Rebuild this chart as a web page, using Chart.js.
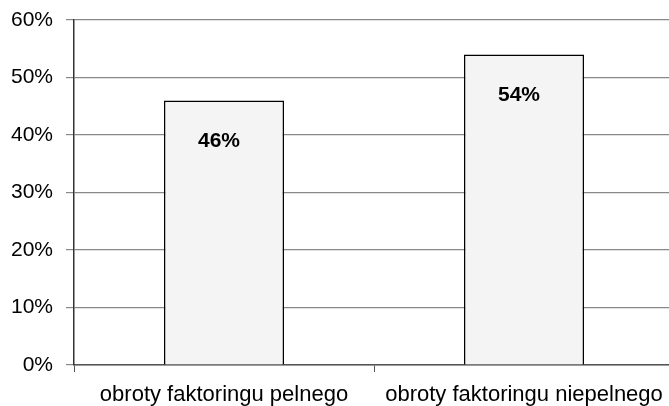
<!DOCTYPE html>
<html>
<head>
<meta charset="utf-8">
<script src="https://cdn.jsdelivr.net/npm/chart.js@4"></script>
<style>
  html, body { margin: 0; padding: 0; background: #fff; overflow: hidden; }
  #wrap { width: 675px; height: 406px; position: relative; }
</style>
</head>
<body>
<div id="wrap"><canvas id="c"></canvas></div>
<script>
const categories = ["obroty faktoringu pelnego", "obroty faktoringu niepelnego"];
const values = [46, 54];
const valueLabels = ["46%", "54%"];
const yTicks = [0, 10, 20, 30, 40, 50, 60];

const FONT = "'Liberation Sans', Arial, sans-serif";

const barLabelPlugin = {
  id: 'barLabels',
  afterDatasetsDraw(chart) {
    const ctx = chart.ctx;
    const meta = chart.getDatasetMeta(0);
    ctx.save();
    ctx.font = "bold 21px " + FONT;
    ctx.fillStyle = "#000";
    ctx.textAlign = "center";
    ctx.textBaseline = "middle";
    meta.data.forEach((bar, i) => {
      ctx.fillText(valueLabels[i], bar.x - 5, bar.y + 41);
    });
    ctx.restore();
  }
};

new Chart(document.getElementById('c'), {
  type: 'bar',
  data: {
    labels: categories,
    datasets: [{
      data: values,
      backgroundColor: '#f4f4f4',
      borderColor: '#000',
      borderWidth: 1.5,
      barPercentage: 0.4,
      categoryPercentage: 1.0
    }]
  },
  options: {
    responsive: true,
    maintainAspectRatio: false,
    animation: false,
    devicePixelRatio: 1,
    layout: { padding: { top: 20, right: 1, left: 0, bottom: 0 } },
    plugins: { legend: { display: false }, tooltip: { enabled: false } },
    scales: {
      x: {
        grid: { display: true, drawOnChartArea: false, drawTicks: true, tickLength: 7, color: '#555', offset: true },
        border: { display: true, color: '#555', width: 1.5 },
        ticks: { color: '#000', font: { family: FONT, size: 22 }, padding: 10, maxRotation: 0, autoSkip: false },
        afterFit(scale) { scale.height = 41; scale.paddingLeft = 0; scale.paddingRight = 0; }
      },
      y: {
        min: 0, max: 60,
        afterBuildTicks(scale) { scale.ticks = yTicks.map(v => ({ value: v })); },
        grid: { color: '#888', lineWidth: 1.2, drawTicks: true, tickLength: 8 },
        border: { display: true, color: '#333', width: 1.5 },
        ticks: { color: '#000', font: { family: FONT, size: 21 }, padding: 13, callback: v => v + '%' },
        afterFit(scale) { scale.width = 74; scale.paddingTop = 0; scale.paddingBottom = 0; }
      }
    }
  },
  plugins: [barLabelPlugin]
});
</script>
</body>
</html>
